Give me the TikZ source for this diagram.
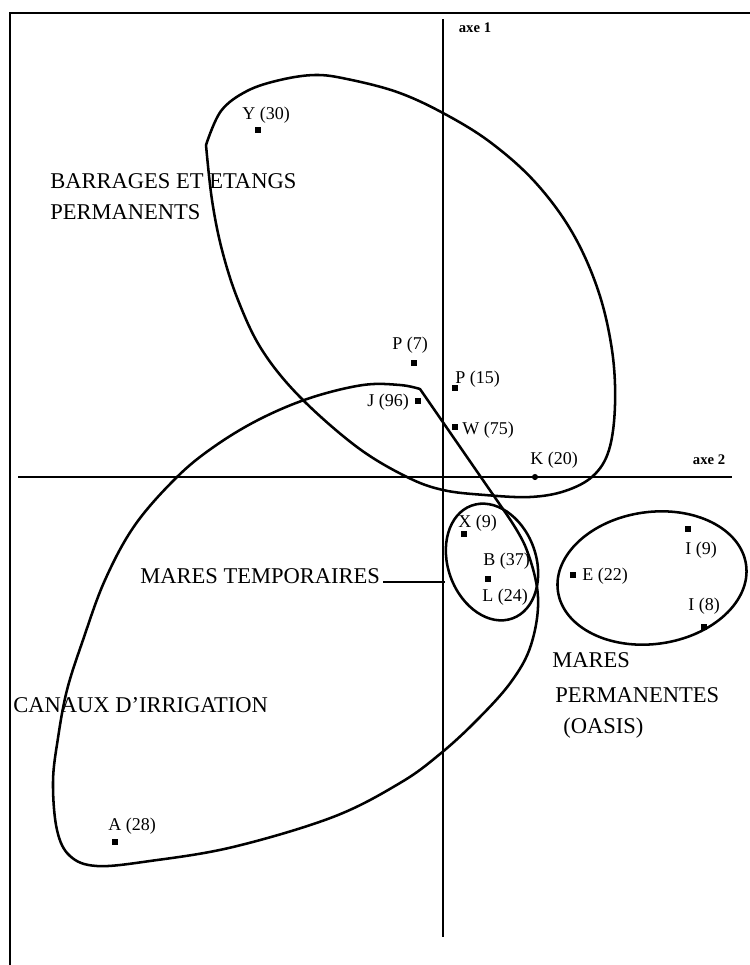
\documentclass[tikz,border=0pt]{standalone}
\usepackage{fontspec}
\setmainfont{Liberation Serif}
\begin{document}
\begin{tikzpicture}[x=0.75pt,y=-0.75pt,
  curve/.style={line width=1.9pt, line join=round, line cap=round},
  axis/.style={line width=1.3pt},
  frame/.style={line width=1.7pt},
  pt/.style={rectangle, fill=black, inner sep=0pt, minimum size=3.8pt},
  lab/.style={inner sep=0pt, anchor=west, font=\fontsize{13.5}{14}\selectfont},
  big/.style={inner sep=0pt, anchor=west, font=\fontsize{16.9}{18}\selectfont},
  axl/.style={inner sep=0pt, font=\bfseries\fontsize{11}{12}\selectfont}]
\useasboundingbox (0,0) rectangle (750,965);

% frame (top and left edges)
\draw[frame] (750,13) -- (10,13) -- (10,965);

% factorial axes
\coordinate (a1top) at (443,19);
\coordinate (a1bot) at (443,937);
\coordinate (a2left) at (18,477);
\coordinate (a2right) at (732,477);
\draw[axis] (a1top) -- (a1bot);
\draw[axis] (a2left) -- (a2right);
\node[axl] (axe1) at (475,28) {axe 1};
\node[axl] (axe2) at (709,460) {axe 2};

% group: barrages et etangs permanents
\draw[curve] plot[smooth, tension=0.6] coordinates {(206,145) (221,111) (247,91)
  (280,80) (315,75) (347,79) (397,92) (443,113) (490,142) (535,182) (572,232)
  (598,290) (612,350) (615,405) (609,450) (593,476) (565,491) (530,497) (485,495)
  (443,490) (407,477) (357,447) (300,397) (262,350) (238,300) (222,250) (212,200)
  (206,145)};

% group: canaux d'irrigation
\draw[curve] (420,389) -- (505,512) -- plot[smooth, tension=0.6] coordinates {(505,512)
  (526,548) (538,597) (531,645) (511,682) (477,720) (440,754) (400,783) (333,817)
  (233,847) (150,861) (97,866) (70,856) (57,830) (53,782) (58,738) (67,690)
  (83,640) (105,580) (135,525) (177,477) (215,446) (260,419) (310,398) (363,385)
  (400,385) (420,389)};

% group: mares temporaires
\draw[curve, rotate around={20:(492,562)}] (492,562) ellipse [x radius=44, y radius=60];

% group: mares permanentes
\draw[curve, rotate around={8:(652,578)}] (652,578) ellipse [x radius=95, y radius=66];

% stations
\node[pt] (Y30) at (258,130) {};
\node[pt] (P7)  at (414,363) {};
\node[pt] (P15) at (455,388) {};
\node[pt] (J96) at (418,401) {};
\node[pt] (W75) at (455,427) {};
\node[circle, fill=black, inner sep=0pt, minimum size=4.6pt] (K20) at (535,477) {};
\node[pt] (X9)  at (464,534) {};
\node[pt] (B37) at (488,579) {};
\node[pt] (E22) at (573,575) {};
\node[pt] (I9)  at (688,529) {};
\node[pt] (I8)  at (704,627) {};
\node[pt] (A28) at (115,842) {};

\node[lab] (lY30) at (242,115) {Y (30)};
\node[lab] (lP7)  at (392,345) {P (7)};
\node[lab] (lP15) at (455,379) {P (15)};
\node[lab] (lJ96) at (367,402) {J (96)};
\node[lab] (lW75) at (462,430) {W (75)};
\node[lab] (lK20) at (530,460) {K (20)};
\node[lab] (lX9)  at (458,523) {X (9)};
\node[lab] (lB37) at (483,561) {B (37)};
\node[lab] (lL24) at (482,597) {L (24)};
\node[lab] (lE22) at (582,576) {E (22)};
\node[lab] (lI9)  at (685,550) {I (9)};
\node[lab] (lI8)  at (688,606) {I (8)};
\node[lab] (lA28) at (108,826) {A (28)};

% group names
\node[big] (barrages) at (50,181) {BARRAGES ET ETANGS};
\node[big] (perm1) at (50,212) {PERMANENTS};
\node[big] (mtemp) at (140,576) {MARES TEMPORAIRES};
\node[big] (canaux) at (13,705) {CANAUX D'IRRIGATION};
\node[big] (mperm1) at (552,660) {MARES};
\node[big] (mperm2) at (555,695) {PERMANENTES};
\node[big] (mperm3) at (563,728) {(OASIS)};

% leader from the label to its group
\coordinate (mtA) at (383,582);
\coordinate (mtB) at (445,582);
\draw[axis] (mtA) -- (mtB);
\end{tikzpicture}
\end{document}
